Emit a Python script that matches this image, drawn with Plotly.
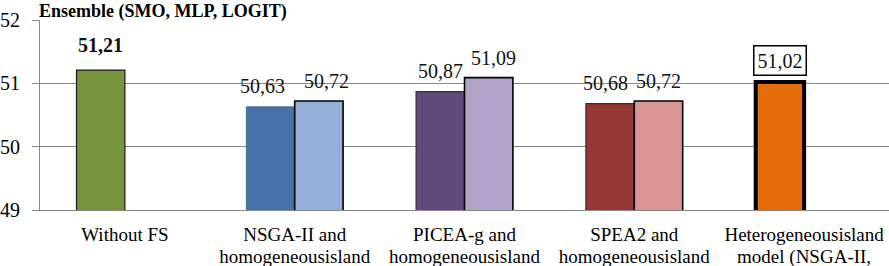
import plotly.graph_objects as go

# ---- data ----
categories = ["Without FS", "NSGA-II and<br>homogeneousisland", "PICEA-g and<br>homogeneousisland",
              "SPEA2 and<br>homogeneousisland", "Heterogeneousisland<br>model (NSGA-II,"]
series_a = [51.21, 50.63, 50.87, 50.68, 51.02]
series_b = [None, 50.72, 51.09, 50.72, None]
labels_a = ["51,21", "50,63", "50,87", "50,68", "51,02"]
labels_b = [None, "50,72", "51,09", "50,72", None]
title_text = "Ensemble (SMO, MLP, LOGIT)"
y_ticks = [49, 50, 51, 52]

first_lines = [c.split("<br>")[0] for c in categories]
second_lines = [(c.split("<br>") + [""])[1] for c in categories]

# ---- styles ----
colors_a = ["#77933C", "#4572A7", "#604A7B", "#953735", "#E46C0A"]
colors_b = ["#FFFFFF", "#95AED8", "#B3A2C7", "#D99694", "#FFFFFF"]
line_a = ["#1a1a1a", "#3d6494", "#3a2a50", "#5a1a1a", "#000000"]
linew_a = [1.2, 0.8, 1.2, 1.2, 4]
serif = "Liberation Serif"
half = 24.3
nudge_a = [0, -8, 0, -5, 0]
nudge_b = [0, 7, 5, 0, 7]

fig = go.Figure()
fig.add_trace(go.Bar(x=first_lines, y=series_a, marker=dict(color=colors_a,
                     line=dict(color=line_a, width=linew_a)), showlegend=False))
fig.add_trace(go.Bar(x=first_lines, y=series_b, marker=dict(color=colors_b,
                     line=dict(color="#000000", width=1.6)), showlegend=False))
# invisible helper trace so the second-line label axis is rendered
fig.add_trace(go.Scatter(x=list(range(len(categories))), y=series_a, xaxis="x2", yaxis="y",
                         mode="none", hoverinfo="skip", showlegend=False))

ann = []
for i, (c, v, t) in enumerate(zip(first_lines, series_a, labels_a)):
    d = dict(x=c, y=v, text=t, showarrow=False, xanchor="center", yanchor="middle",
             xshift=-half + nudge_a[i], yshift=21,
             font=dict(family=serif, size=20, color="#111111"))
    if i == 0:
        d["text"] = "<b>" + t + "</b>"
        d["yshift"] = 25
    if i == 4:
        d.update(bordercolor="#000000", borderwidth=1.5, borderpad=3, bgcolor="#FFFFFF", yshift=22)
    ann.append(d)
for i, (c, v, t) in enumerate(zip(first_lines, series_b, labels_b)):
    if v is None:
        continue
    ann.append(dict(x=c, y=v, text=t, showarrow=False, xanchor="center", yanchor="middle",
                    xshift=half + nudge_b[i], yshift=20,
                    font=dict(family=serif, size=20, color="#111111")))
ann.append(dict(xref="paper", yref="paper", x=0, y=1, xanchor="left", yanchor="bottom",
                xshift=-3, yshift=-4, text="<b>" + title_text + "</b>", showarrow=False,
                font=dict(family=serif, size=18, color="#000000")))

fig.update_layout(
    width=889, height=266, margin=dict(l=40, r=0, t=20, b=56, autoexpand=False),
    paper_bgcolor="white", plot_bgcolor="white",
    barmode="group", bargap=0.43, bargroupgap=0,
    annotations=ann,
    xaxis=dict(type="category", showline=True, linecolor="#868686", linewidth=1,
               ticks="", tickfont=dict(family=serif, size=19, color="#000000"),
               ticklabelstandoff=7, showgrid=False, automargin=False),
    xaxis2=dict(overlaying="x", side="bottom", anchor="y", range=[-0.5, len(categories) - 0.5],
                tickvals=list(range(len(categories))), ticktext=second_lines,
                showline=False, showgrid=False, zeroline=False, ticks="",
                tickfont=dict(family=serif, size=19, color="#000000"),
                ticklabelstandoff=33, automargin=False, fixedrange=True),
    yaxis=dict(range=[49, 52], tickvals=y_ticks, ticktext=[str(v) for v in y_ticks],
               showline=True, linecolor="#868686", linewidth=1,
               ticks="outside", ticklen=7, tickcolor="#868686",
               showgrid=True, gridcolor="#868686", gridwidth=1, zeroline=False,
               tickfont=dict(family=serif, size=20, color="#000000"), ticklabelstandoff=8,
               automargin=False),
)
fig.write_html("out.html", config={"displayModeBar": False},
               post_script="document.body.style.margin='0';document.body.style.overflow='hidden';")
